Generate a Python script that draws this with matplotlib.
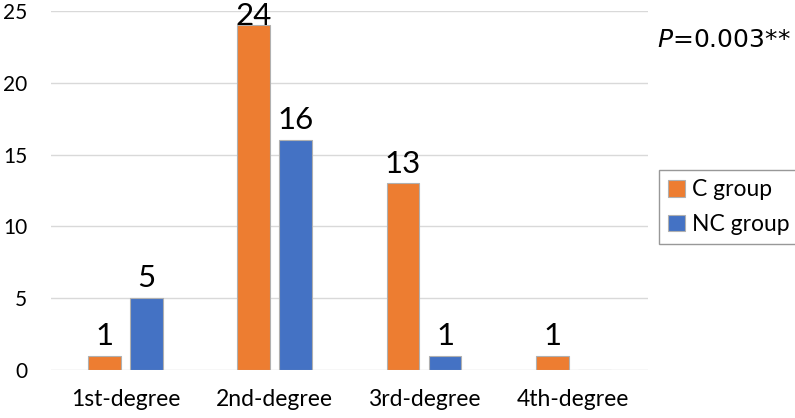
import numpy as np
import matplotlib.pyplot as plt

plt.rcParams['font.family'] = ['Lato', 'DejaVu Sans']

categories = ['1st-degree', '2nd-degree', '3rd-degree', '4th-degree']
c_group = [1, 24, 13, 1]
nc_group = [5, 16, 1, 0]
series_names = ['C group', 'NC group']
p_text = '$P$=0.003**'

fig = plt.figure(figsize=(7.95, 4.18), dpi=100)
ax = fig.add_axes([0.064, 0.1148, 0.751, 0.8589])

x = np.arange(len(categories))
w = 0.22
off = 0.141
ymax = 25
b1 = ax.bar(x - off, c_group, w, color='#ED7D31', edgecolor='#B0B0B0', linewidth=0.8,
            label=series_names[0], zorder=3)
b2 = ax.bar(x + off, nc_group, w, color='#4472C4', edgecolor='#B0B0B0', linewidth=0.8,
            label=series_names[1], zorder=3)

for bars, vals in [(b1, c_group), (b2, nc_group)]:
    for rect, v in zip(bars, vals):
        if v == 0:
            continue
        # label sits above the bar, but is kept inside the plot like Excel does
        ty = min(v + 0.75, ymax - 0.95)
        ax.text(rect.get_x() + rect.get_width() / 2, ty, str(v),
                ha='center', va='baseline', fontsize=22.5, color='black', zorder=4,
                clip_on=False)

ax.set_xlim(-0.5, len(categories) - 0.5)
ax.set_ylim(0, ymax)
ax.set_yticks(range(0, 26, 5))
ax.set_xticks(x)
ax.set_xticklabels(categories, fontsize=16.5)
ax.tick_params(axis='y', labelsize=15, length=0, pad=17)
ax.tick_params(axis='x', length=0, pad=14)
ax.grid(axis='y', color='#D9D9D9', linewidth=1, zorder=0)
for s in ax.spines.values():
    s.set_visible(False)

fig.text(0.826, 0.905, p_text, fontsize=18, ha='left', va='center',
         family=['DejaVu Sans'], math_fontfamily='dejavusans')

leg = fig.legend(loc='upper left', bbox_to_anchor=(0.829, 0.593), fontsize=16.5,
                 frameon=True, fancybox=False, handlelength=0.75, handleheight=0.75,
                 handletextpad=0.3, borderpad=0.4, labelspacing=0.6, borderaxespad=0)
leg.get_frame().set_edgecolor('#7F7F7F')
leg.get_frame().set_linewidth(1)

fig.savefig('out.png', dpi=100)
